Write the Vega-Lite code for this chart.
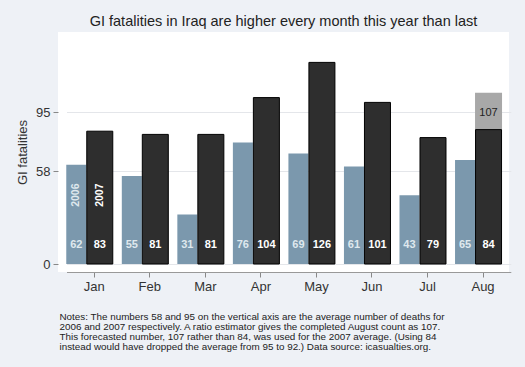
{
  "$schema": "https://vega.github.io/schema/vega-lite/v6.json",
  "autosize": {"type": "none"},
  "padding": {"left": 58, "top": 32, "right": 16, "bottom": 95},
  "width": 451,
  "height": 240,
  "background": "#eef1f6",
  "config": {
    "font": "Liberation Sans",
    "view": {"fill": "white", "stroke": null}
  },
  "title": {
    "text": "GI fatalities in Iraq are higher every month this year than last",
    "fontSize": 14.5,
    "fontWeight": "normal",
    "color": "#222222",
    "anchor": "middle",
    "offset": 3
  },
  "data": {
    "values": [
      {"month": "Jan", "year": "2006", "deaths": 62},
      {"month": "Feb", "year": "2006", "deaths": 55},
      {"month": "Mar", "year": "2006", "deaths": 31},
      {"month": "Apr", "year": "2006", "deaths": 76},
      {"month": "May", "year": "2006", "deaths": 69},
      {"month": "Jun", "year": "2006", "deaths": 61},
      {"month": "Jul", "year": "2006", "deaths": 43},
      {"month": "Aug", "year": "2006", "deaths": 65},
      {"month": "Jan", "year": "2007", "deaths": 83},
      {"month": "Feb", "year": "2007", "deaths": 81},
      {"month": "Mar", "year": "2007", "deaths": 81},
      {"month": "Apr", "year": "2007", "deaths": 104},
      {"month": "May", "year": "2007", "deaths": 126},
      {"month": "Jun", "year": "2007", "deaths": 101},
      {"month": "Jul", "year": "2007", "deaths": 79},
      {"month": "Aug", "year": "2007", "deaths": 84, "forecast": 107}
    ]
  },
  "encoding": {
    "x": {
      "field": "month",
      "type": "nominal",
      "sort": ["Jan", "Feb", "Mar", "Apr", "May", "Jun", "Jul", "Aug"],
      "scale": {"range": [8.5, 452.8], "paddingInner": 0, "paddingOuter": 0},
      "axis": {
        "title": [
          "Notes: The numbers 58 and 95 on the vertical axis are the average number of deaths for",
          "2006 and 2007 respectively. A ratio estimator gives the completed August count as 107.",
          "This forecasted number, 107 rather than 84, was used for the 2007 average. (Using 84",
          "instead would have dropped the average from 95 to 92.) Data source: icasualties.org."
        ],
        "titleFontSize": 9.85,
        "titleFontWeight": "normal",
        "titleColor": "#222222",
        "titleAnchor": "start",
        "titleAlign": "left",
        "titleBaseline": "top",
        "titleX": 1,
        "titleY": 39,
        "titleLineHeight": 10,
        "labelAngle": 0,
        "labelFontSize": 13,
        "labelColor": "#333333",
        "labelPadding": 3,
        "tickSize": 5,
        "tickColor": "#888888",
        "domainColor": "#999999",
        "grid": false
      }
    }
  },
  "layer": [
    {
      "transform": [{"filter": "isValid(datum.forecast)"}],
      "mark": {"type": "bar", "size": 27, "xOffset": 5.5, "color": "#a8a8a8"},
      "encoding": {
        "y": {
          "field": "forecast",
          "type": "quantitative",
          "scale": {"domain": [-5, 145], "nice": false, "zero": false},
          "axis": {
            "values": [0, 58, 95],
            "title": "GI fatalities",
            "titleFontSize": 13,
            "titleFontWeight": "normal",
            "titleColor": "#333333",
            "titlePadding": 6,
            "labelFontSize": 13,
            "labelColor": "#333333",
            "labelPadding": 3,
            "tickSize": 5,
            "tickColor": "#888888",
            "domain": false,
            "grid": true,
            "gridColor": "#e4e6ea"
          }
        },
        "y2": {"field": "deaths"}
      }
    },
    {
      "transform": [{"filter": "datum.year == '2006'"}],
      "mark": {"type": "bar", "size": 20, "xOffset": -18, "color": "#7b98ad"},
      "encoding": {
        "y": {"field": "deaths", "type": "quantitative"},
        "y2": {"datum": 0}
      }
    },
    {
      "transform": [{"filter": "datum.year == '2007'"}],
      "mark": {"type": "bar", "size": 26, "xOffset": 5.5, "color": "#2e2e2e", "stroke": "#000000", "strokeWidth": 1},
      "encoding": {
        "y": {"field": "deaths", "type": "quantitative"},
        "y2": {"datum": 0}
      }
    },
    {
      "transform": [{"filter": "datum.year == '2006'"}],
      "mark": {"type": "text", "xOffset": -18, "dy": -19, "color": "#dfe8ee", "fontSize": 11, "fontWeight": "bold", "baseline": "middle"},
      "encoding": {
        "y": {"datum": 0},
        "text": {"field": "deaths", "type": "quantitative"}
      }
    },
    {
      "transform": [{"filter": "datum.year == '2007'"}],
      "mark": {"type": "text", "xOffset": 5.5, "dy": -19, "color": "#ffffff", "fontSize": 11, "fontWeight": "bold", "baseline": "middle"},
      "encoding": {
        "y": {"datum": 0},
        "text": {"field": "deaths", "type": "quantitative"}
      }
    },
    {
      "transform": [{"filter": "datum.month == 'Jan' && datum.year == '2006'"}],
      "mark": {"type": "text", "xOffset": -18, "angle": 270, "color": "#dfe8ee", "fontSize": 10.5, "fontWeight": "bold", "baseline": "middle", "align": "center"},
      "encoding": {
        "y": {"datum": 43},
        "text": {"field": "year"}
      }
    },
    {
      "transform": [{"filter": "datum.month == 'Jan' && datum.year == '2007'"}],
      "mark": {"type": "text", "xOffset": 5.5, "angle": 270, "color": "#ffffff", "fontSize": 10.5, "fontWeight": "bold", "baseline": "middle", "align": "center"},
      "encoding": {
        "y": {"datum": 43},
        "text": {"field": "year"}
      }
    },
    {
      "transform": [{"filter": "isValid(datum.forecast)"}],
      "mark": {"type": "text", "xOffset": 5.5, "dy": 20, "color": "#222222", "fontSize": 11, "baseline": "middle"},
      "encoding": {
        "y": {"field": "forecast", "type": "quantitative"},
        "text": {"field": "forecast", "type": "quantitative"}
      }
    }
  ]
}
